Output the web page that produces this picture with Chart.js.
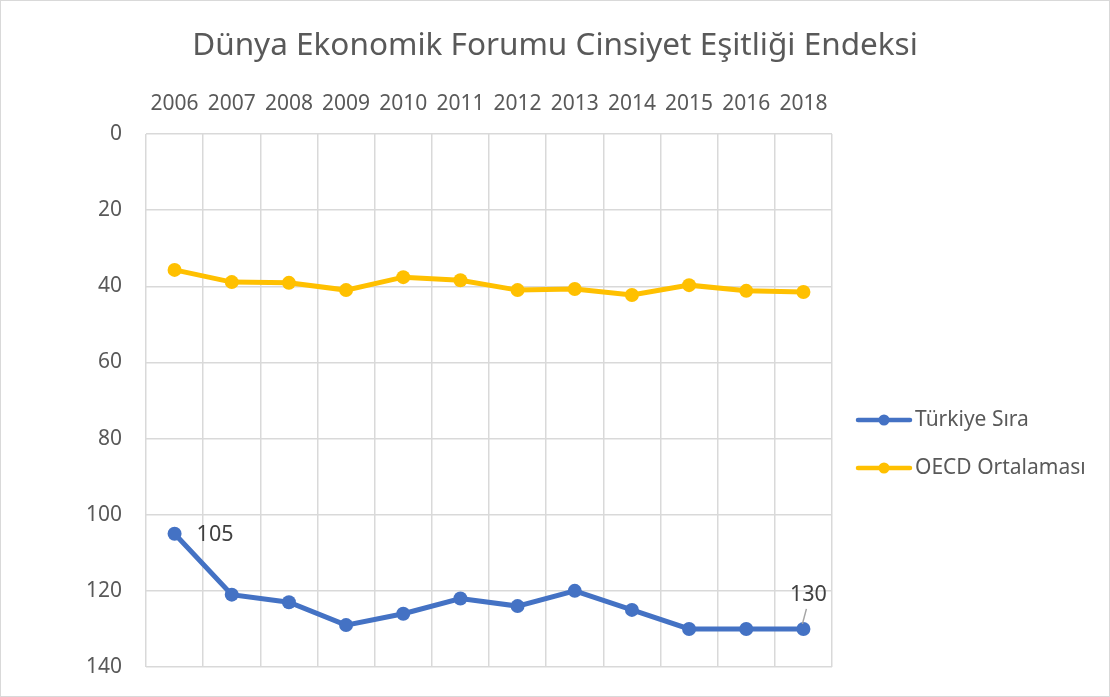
<!DOCTYPE html>
<html>
<head>
<meta charset="utf-8">
<script src="https://cdn.jsdelivr.net/npm/chart.js@4/dist/chart.umd.min.js"></script>
<style>
  html, body { margin: 0; padding: 0; background: #fff; }
  #wrap { width: 1110px; height: 697px; position: relative; }
</style>
</head>
<body>
<div id="wrap"><canvas id="genderChart" width="1110" height="697"></canvas></div>
<script>
const years = ['2006', '2007', '2008', '2009', '2010', '2011', '2012', '2013', '2014', '2015', '2016', '2018'];
const turkeyRank = [105, 121, 123, 129, 126, 122, 124, 120, 125, 130, 130, 130];
const oecdAverage = [35.7, 38.9, 39.1, 41, 37.6, 38.4, 41, 40.7, 42.3, 39.7, 41.2, 41.5];
const rankTicks = [0, 20, 40, 60, 80, 100, 120, 140];

const FONT = '"Noto Sans", "Open Sans", sans-serif';
const GRAY = '#595959';

// title, frame, legend and the two value labels
const decorations = {
    id: 'decorations',
    afterDraw(chart) {
        const ctx = chart.ctx;
        ctx.save();

        ctx.strokeStyle = '#d9d9d9';
        ctx.lineWidth = 1;
        ctx.strokeRect(0.5, 0.5, chart.width - 1, chart.height - 1);

        ctx.fillStyle = GRAY;
        ctx.font = '31.5px ' + FONT;
        ctx.textAlign = 'center';
        ctx.textBaseline = 'middle';
        ctx.fillText('Dünya Ekonomik Forumu Cinsiyet Eşitliği Endeksi', chart.width / 2, 46);

        // legend
        const rows = [420, 468];
        chart.data.datasets.forEach((ds, i) => {
            const y = rows[i];
            ctx.strokeStyle = ds.borderColor;
            ctx.lineWidth = 4.5;
            ctx.lineCap = 'round';
            ctx.beginPath();
            ctx.moveTo(858, y);
            ctx.lineTo(910, y);
            ctx.stroke();
            ctx.fillStyle = ds.borderColor;
            ctx.beginPath();
            ctx.arc(884, y, 5.5, 0, Math.PI * 2);
            ctx.fill();
            ctx.fillStyle = GRAY;
            ctx.font = '21px ' + FONT;
            ctx.textAlign = 'left';
            ctx.textBaseline = 'middle';
            ctx.fillText(ds.label, 915, y);
        });

        // data labels
        const meta = chart.getDatasetMeta(0);
        const first = meta.data[0];
        const last = meta.data[meta.data.length - 1];
        ctx.fillStyle = '#404040';
        ctx.font = '21.5px ' + FONT;
        ctx.textAlign = 'left';
        ctx.textBaseline = 'middle';
        ctx.fillText(String(turkeyRank[0]), first.x + 22, first.y + 1);

        ctx.textAlign = 'center';
        ctx.fillText(String(turkeyRank[turkeyRank.length - 1]), last.x + 5, last.y - 34);
        ctx.strokeStyle = '#a6a6a6';
        ctx.lineWidth = 1.5;
        ctx.lineCap = 'butt';
        ctx.beginPath();
        ctx.moveTo(last.x + 3, last.y - 20);
        ctx.lineTo(last.x - 1, last.y - 5);
        ctx.stroke();

        ctx.restore();
    }
};

new Chart(document.getElementById('genderChart'), {
    type: 'line',
    data: {
        labels: years,
        datasets: [
            {
                label: 'Türkiye Sıra',
                data: turkeyRank,
                borderColor: '#4472C4',
                backgroundColor: '#4472C4',
                borderWidth: 5,
                pointRadius: 7,
                pointHoverRadius: 7,
                pointBorderWidth: 0,
                tension: 0
            },
            {
                label: 'OECD Ortalaması',
                data: oecdAverage,
                borderColor: '#FFC000',
                backgroundColor: '#FFC000',
                borderWidth: 5,
                pointRadius: 7,
                pointHoverRadius: 7,
                pointBorderWidth: 0,
                tension: 0
            }
        ]
    },
    options: {
        responsive: false,
        animation: false,
        layout: { padding: { left: 0, right: 278, top: 2, bottom: 30 } },
        plugins: {
            legend: { display: false },
            title: { display: false },
            tooltip: { enabled: false }
        },
        scales: {
            x: {
                position: 'top',
                offset: true,
                afterFit: s => { s.height = 132; },
                grid: { offset: true, color: '#d9d9d9', lineWidth: 1.5, drawTicks: false },
                border: { display: false },
                ticks: { color: GRAY, font: { family: FONT, size: 21 }, padding: 17, maxRotation: 0 }
            },
            y: {
                reverse: true,
                min: 0,
                max: 140,
                afterFit: s => { s.width = 146; },
                afterBuildTicks: s => { s.ticks = rankTicks.map(v => ({ value: v })); },
                // invisible tick marks make the gap, so the padding does not shrink the plot
                grid: { color: '#d9d9d9', lineWidth: 1.5, drawTicks: true, tickLength: 24, tickColor: 'rgba(0,0,0,0)' },
                border: { display: false },
                ticks: { color: GRAY, font: { family: FONT, size: 21 }, padding: 0 }
            }
        }
    },
    plugins: [decorations]
});
</script>
</body>
</html>
